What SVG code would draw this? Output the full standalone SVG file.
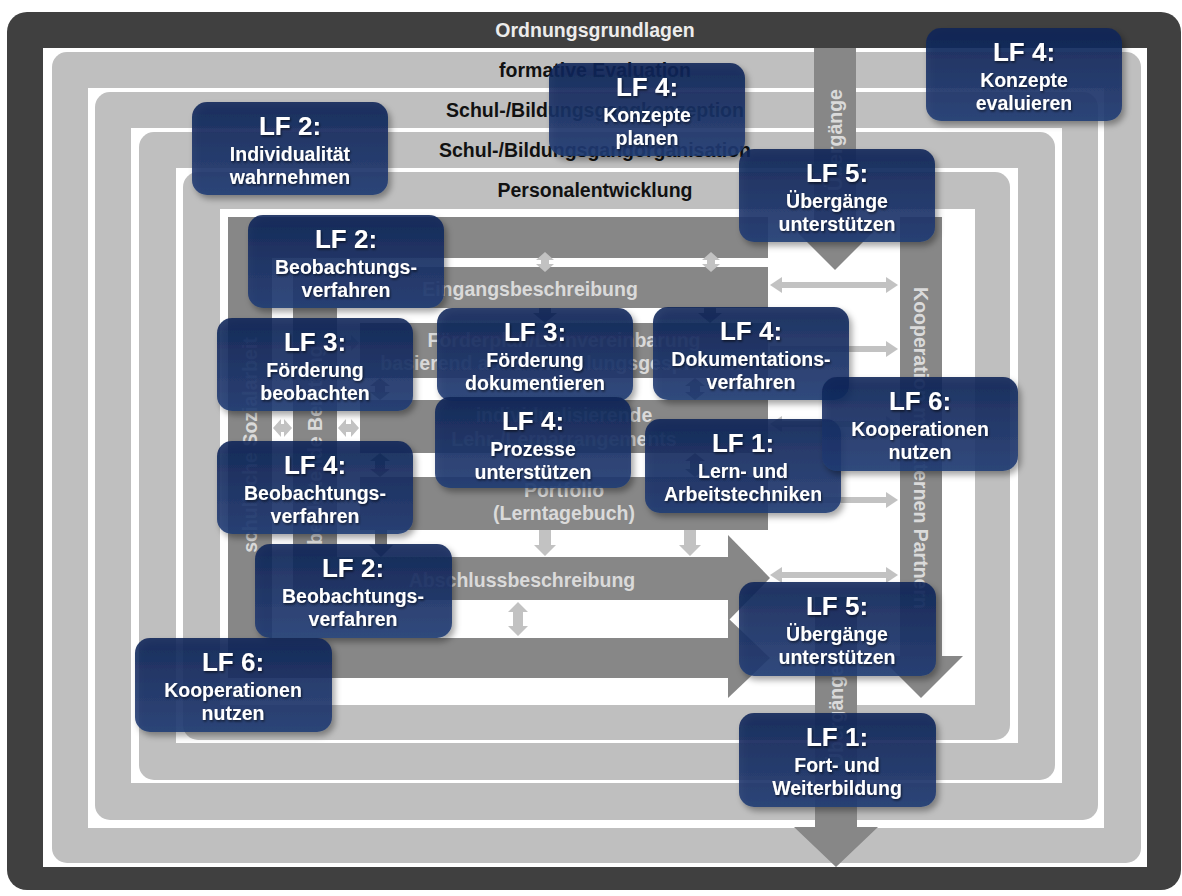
<svg xmlns="http://www.w3.org/2000/svg" width="1182" height="896" viewBox="0 0 1182 896">
<defs>
<style>
.band{fill:#bfbfbf}
.wh{fill:#ffffff}
.bar{fill:#878787}
.la{fill:#c2c2c2}
.da{fill:#7a7a7a}
.lbl{font-family:"Liberation Sans",Arial,sans-serif;font-weight:bold;font-size:19.5px;text-anchor:middle}
.blk{fill:#111111}
.inb{fill:#dadada}
.box{fill:url(#navy);fill-opacity:0.88;filter:url(#bs)}
.bt{font-family:"Liberation Sans",Arial,sans-serif;font-weight:bold;fill:#ffffff;text-anchor:middle;filter:url(#ts)}
.lf{font-size:26px}
.sub{font-size:19.5px}
</style>
<linearGradient id="navy" x1="0" y1="0" x2="0" y2="1">
<stop offset="0" stop-color="#0f2457"/>
<stop offset="1" stop-color="#213c74"/>
</linearGradient>
<filter id="bs" x="-10%" y="-10%" width="125%" height="130%">
<feDropShadow dx="3" dy="4" stdDeviation="3" flood-color="#000" flood-opacity="0.4"/>
</filter>
<filter id="ts" x="-10%" y="-20%" width="125%" height="150%">
<feDropShadow dx="1" dy="1.5" stdDeviation="1" flood-color="#000" flood-opacity="0.6"/>
</filter>
</defs>

<g id="frames">
<rect x="7" y="12" width="1174" height="878" rx="20" fill="#404040"/>
<rect class="wh" x="43" y="48" width="1104" height="819"/>
<rect class="band" x="52" y="52" width="1089" height="811" rx="15"/>
<rect class="wh" x="88" y="88" width="1016" height="740"/>
<rect class="band" x="95" y="92" width="1003" height="728" rx="15"/>
<rect class="wh" x="131" y="128" width="931" height="655"/>
<rect class="band" x="139" y="132" width="916" height="648" rx="15"/>
<rect class="wh" x="176" y="168" width="842" height="575"/>
<rect class="band" x="183" y="172" width="827" height="568" rx="15"/>
<rect class="wh" x="220" y="209" width="755" height="496"/>
</g>

<g id="band-labels" class="lbl">
<text x="595" y="37" fill="#ececec">Ordnungsgrundlagen</text>
<text class="blk" x="595" y="77">formative Evaluation</text>
<text class="blk" x="595" y="117">Schul-/Bildungsgangkonzeption</text>
<text class="blk" x="595" y="157">Schul-/Bildungsgangorganisation</text>
<text class="blk" x="595" y="197">Personalentwicklung</text>
</g>

<g id="uebergaenge-top">
<polygon class="bar" points="814,48 856,48 856,228 877,228 835,270 793,228 814,228"/>
<text class="lbl inb" font-size="18" transform="translate(835,140) rotate(-90)" dy="0.35em">Übergänge</text>
</g>

<g id="inner-panel">
<rect class="bar" x="228" y="217" width="540" height="41"/>
<rect class="bar" x="228" y="217" width="44" height="461"/>
<rect class="bar" x="228" y="638" width="500" height="40"/>
<polygon class="bar" points="728,618 770,658 728,698"/>
<rect class="bar" x="293" y="267" width="475" height="41"/>
<rect class="bar" x="293" y="267" width="44" height="333"/>
<rect class="bar" x="293" y="557" width="435" height="43"/>
<polygon class="bar" points="728,535 770,578 728,621"/>
<rect class="bar" x="360" y="323" width="408" height="55"/>
<rect class="bar" x="360" y="400" width="408" height="53"/>
<rect class="bar" x="360" y="477" width="408" height="53"/>
<g class="lbl inb">
<text x="530" y="296">Eingangsbeschreibung</text>
<text x="564" y="347">Förderplan/Lernvereinbarung</text>
<text x="564" y="370">basierend auf Entwicklungsgesprächen</text>
<text x="564" y="422">individualisierende</text>
<text x="564" y="446">Lehr-/Lernarrangements</text>
<text x="564" y="497">Portfolio</text>
<text x="564" y="520">(Lerntagebuch)</text>
<text x="522" y="587">Abschlussbeschreibung</text>
<text transform="translate(250,445) rotate(-90)" dy="0.35em">schulische Sozialarbeit</text>
<text transform="translate(315,445) rotate(-90)" dy="0.35em">begleitende Beratung</text>
</g>
</g>

<g id="kooperation">
<polygon class="bar" points="900,217 942,217 942,656 963,656 921,698 879,656 900,656"/>
<text class="lbl inb" fill="#e6e6e6" transform="translate(921,448) rotate(90)" dy="0.35em">Kooperation mit externen Partnern</text>
</g>

<g id="uebergaenge-bottom">
<polygon class="bar" points="815,597 857,597 857,827 878,827 836,867 794,827 815,827"/>
<text class="lbl inb" font-size="18" transform="translate(836,716) rotate(-90)" dy="0.35em">Übergänge</text>
</g>

<g id="connectors">
<polygon class="la" points="770,285 782,277 782,282 886,282 886,277 898,285 886,293 886,288 782,288 782,293"/>
<polygon class="la" points="770,346 886,346 886,341 898,349 886,357 886,352 770,352"/>
<polygon class="la" points="770,424 782,416 782,421 886,421 886,416 898,424 886,432 886,427 782,427 782,432"/>
<polygon class="la" points="770,497 886,497 886,492 898,500 886,508 886,503 770,503"/>
<polygon class="la" points="770,575 782,567 782,572 886,572 886,567 898,575 886,583 886,578 782,578 782,583"/>
<polygon class="la" points="545,252 554,260 549,260 549,264 554,264 545,272 536,264 541,264 541,260 536,260"/>
<polygon class="la" points="711,252 720,260 715,260 715,264 720,264 711,272 702,264 707,264 707,260 702,260"/>
<polygon class="la" points="273,428 281,419 281,424 284,424 284,419 292,428 284,437 284,432 281,432 281,437"/>
<polygon class="la" points="338,428 346,419 346,424 351,424 351,419 359,428 351,437 351,432 346,432 346,437"/>
<polygon class="la" points="338,343 346,335 346,340 351,340 351,335 359,343 351,351 351,346 346,346 346,351"/>
<polygon class="la" points="539,530 551,530 551,545 556,545 545,556 534,545 539,545"/>
<polygon class="la" points="684,530 696,530 696,545 701,545 690,556 679,545 684,545"/>
<polygon class="la" points="518,602 528,612 523,612 523,626 528,626 518,636 508,626 513,626 513,612 508,612"/>
<polygon class="da" points="539,308 551,308 551,313 557,313 545,323 533,313 539,313"/>
<polygon class="da" points="704,308 716,308 716,313 722,313 710,323 698,313 704,313"/>
<polygon class="da" points="380,378 390,386 385,386 385,392 390,392 380,400 370,392 375,392 375,386 370,386"/>
<polygon class="da" points="695,378 705,386 700,386 700,392 705,392 695,400 685,392 690,392 690,386 685,386"/>
<polygon class="da" points="380,453 390,461 385,461 385,469 390,469 380,477 370,469 375,469 375,461 370,461"/>
<polygon class="da" points="695,453 705,461 700,461 700,469 705,469 695,477 685,469 690,469 690,461 685,461"/>
<polygon class="da" points="375,530 387,530 387,545 393,545 381,557 369,545 375,545"/>
</g>

<g id="lf4-konzepte-evaluieren">
<rect class="box" x="926" y="28" width="196" height="93" rx="15"/>
<text class="bt lf" x="1024" y="61">LF 4:</text>
<text class="bt sub" x="1024" y="87">Konzepte</text>
<text class="bt sub" x="1024" y="110">evaluieren</text>
</g>
<g id="lf4-konzepte-planen">
<rect class="box" x="549" y="63" width="196" height="93" rx="15"/>
<text class="bt lf" x="647" y="96">LF 4:</text>
<text class="bt sub" x="647" y="122">Konzepte</text>
<text class="bt sub" x="647" y="145">planen</text>
</g>
<g id="lf2-individualitaet">
<rect class="box" x="192" y="102" width="196" height="93" rx="15"/>
<text class="bt lf" x="290" y="135">LF 2:</text>
<text class="bt sub" x="290" y="161">Individualität</text>
<text class="bt sub" x="290" y="184">wahrnehmen</text>
</g>
<g id="lf5-uebergaenge-top">
<rect class="box" x="739" y="149" width="196" height="93" rx="15"/>
<text class="bt lf" x="837" y="182">LF 5:</text>
<text class="bt sub" x="837" y="208">Übergänge</text>
<text class="bt sub" x="837" y="231">unterstützen</text>
</g>
<g id="lf2-beobachtung-top">
<rect class="box" x="248" y="215" width="196" height="93" rx="15"/>
<text class="bt lf" x="346" y="248">LF 2:</text>
<text class="bt sub" x="346" y="274">Beobachtungs-</text>
<text class="bt sub" x="346" y="297">verfahren</text>
</g>
<g id="lf3-foerderung-beobachten">
<rect class="box" x="217" y="318" width="196" height="93" rx="15"/>
<text class="bt lf" x="315" y="351">LF 3:</text>
<text class="bt sub" x="315" y="377">Förderung</text>
<text class="bt sub" x="315" y="400">beobachten</text>
</g>
<g id="lf3-foerderung-dokumentieren">
<rect class="box" x="437" y="308" width="196" height="93" rx="15"/>
<text class="bt lf" x="535" y="341">LF 3:</text>
<text class="bt sub" x="535" y="367">Förderung</text>
<text class="bt sub" x="535" y="390">dokumentieren</text>
</g>
<g id="lf4-dokumentation">
<rect class="box" x="653" y="307" width="196" height="93" rx="15"/>
<text class="bt lf" x="751" y="340">LF 4:</text>
<text class="bt sub" x="751" y="366">Dokumentations-</text>
<text class="bt sub" x="751" y="389">verfahren</text>
</g>
<g id="lf4-prozesse">
<rect class="box" x="435" y="397" width="196" height="91" rx="15"/>
<text class="bt lf" x="533" y="430">LF 4:</text>
<text class="bt sub" x="533" y="456">Prozesse</text>
<text class="bt sub" x="533" y="479">unterstützen</text>
</g>
<g id="lf1-lerntechniken">
<rect class="box" x="645" y="419" width="196" height="94" rx="15"/>
<text class="bt lf" x="743" y="452">LF 1:</text>
<text class="bt sub" x="743" y="478">Lern- und</text>
<text class="bt sub" x="743" y="501">Arbeitstechniken</text>
</g>
<g id="lf6-kooperation-right">
<rect class="box" x="822" y="377" width="196" height="94" rx="15"/>
<text class="bt lf" x="920" y="410">LF 6:</text>
<text class="bt sub" x="920" y="436">Kooperationen</text>
<text class="bt sub" x="920" y="459">nutzen</text>
</g>
<g id="lf4-beobachtung">
<rect class="box" x="217" y="441" width="196" height="93" rx="15"/>
<text class="bt lf" x="315" y="474">LF 4:</text>
<text class="bt sub" x="315" y="500">Beobachtungs-</text>
<text class="bt sub" x="315" y="523">verfahren</text>
</g>
<g id="lf2-beobachtung-bottom">
<rect class="box" x="255" y="544" width="197" height="94" rx="15"/>
<text class="bt lf" x="353" y="577">LF 2:</text>
<text class="bt sub" x="353" y="603">Beobachtungs-</text>
<text class="bt sub" x="353" y="626">verfahren</text>
</g>
<g id="lf6-kooperation-left">
<rect class="box" x="135" y="638" width="197" height="94" rx="15"/>
<text class="bt lf" x="233" y="671">LF 6:</text>
<text class="bt sub" x="233" y="697">Kooperationen</text>
<text class="bt sub" x="233" y="720">nutzen</text>
</g>
<g id="lf5-uebergaenge-bottom">
<rect class="box" x="739" y="582" width="197" height="94" rx="15"/>
<text class="bt lf" x="837" y="615">LF 5:</text>
<text class="bt sub" x="837" y="641">Übergänge</text>
<text class="bt sub" x="837" y="664">unterstützen</text>
</g>
<g id="lf1-fortbildung">
<rect class="box" x="739" y="713" width="197" height="94" rx="15"/>
<text class="bt lf" x="837" y="746">LF 1:</text>
<text class="bt sub" x="837" y="772">Fort- und</text>
<text class="bt sub" x="837" y="795">Weiterbildung</text>
</g>
</svg>
